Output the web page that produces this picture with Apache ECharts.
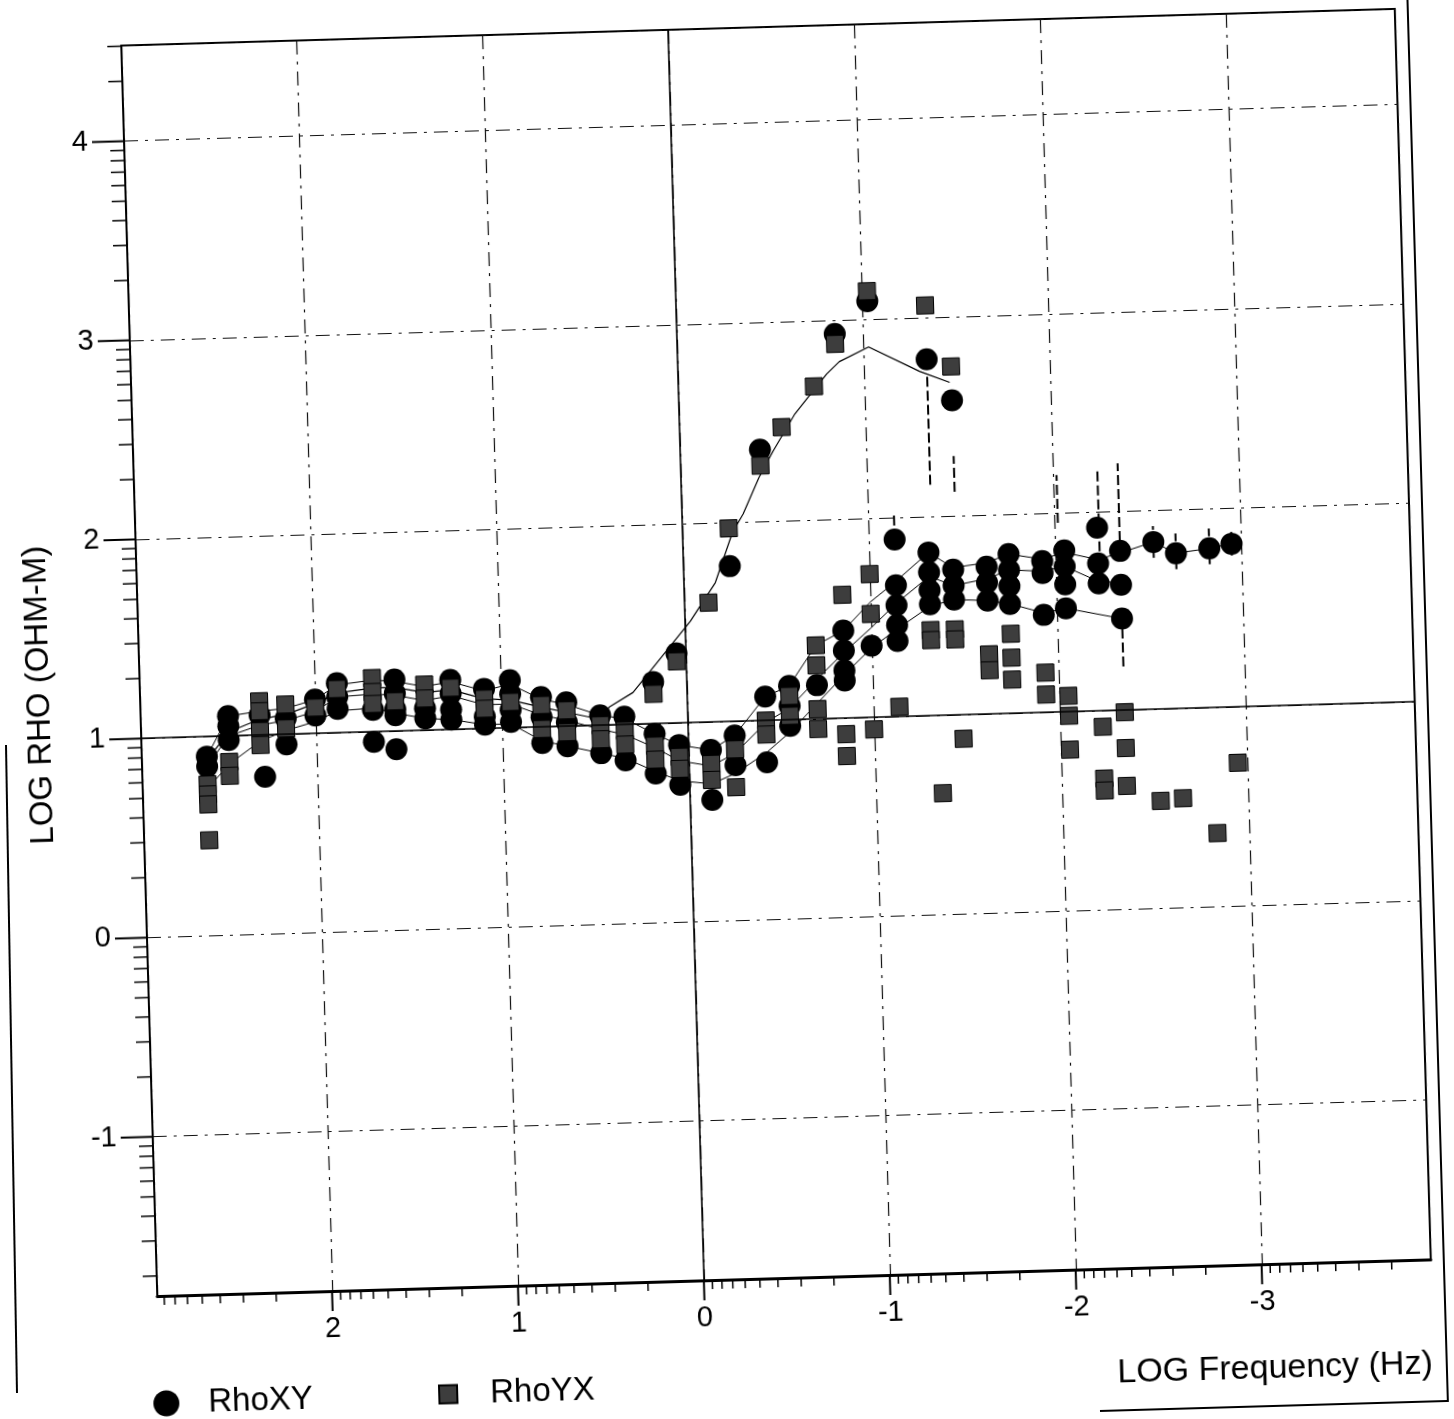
<!DOCTYPE html>
<html>
<head>
<meta charset="utf-8">
<script src="https://cdn.jsdelivr.net/npm/echarts@6/dist/echarts.min.js"></script>
<style>
html,body{margin:0;padding:0;background:#fff;overflow:hidden;width:1454px;height:1419px;}
#chart{position:absolute;left:0;top:0;width:1454px;height:1440px;transform:rotate(-1.65deg);transform-origin:776px 652px;}
#edge{position:absolute;left:0;top:0;}
</style>
</head>
<body>
<div id="chart"></div>
<svg id="edge" width="1454" height="1419"><line x1="6" y1="745" x2="17" y2="1393" stroke="#000" stroke-width="2"/></svg>
<script>
// axis extents (log10 units)
const X_MIN = -3.91, X_MAX = 2.94, Y_MIN = -1.80, Y_MAX = 4.48;
const xTickValues = [2, 1, 0, -1, -2, -3];
const xTickLabels = ['2', '1', '0', '-1', '-2', '-3'];
const yTickValues = [-1, 0, 1, 2, 3, 4];
const yTickLabels = ['-1', '0', '1', '2', '3', '4'];
const refLinesY = [1];
const refLinesX = [0];

// RhoXY apparent resistivity [log frequency, log rho]
const rhoXY = [
[2.59,0.90],[2.59,0.85],
[2.47,1.10],[2.47,1.05],[2.47,0.98],
[2.30,1.10],[2.28,0.79],
[2.16,1.08],[2.16,0.95],
[2.00,1.17],[2.00,1.09],
[1.88,1.25],[1.88,1.18],[1.88,1.12],
[1.69,1.11],[1.69,0.95],
[1.57,1.26],[1.57,1.19],[1.57,1.11],[1.57,1.08],[1.57,0.91],
[1.41,1.11],[1.41,1.06],
[1.27,1.25],[1.27,1.18],[1.27,1.10],[1.27,1.05],
[1.09,1.20],[1.09,1.06],[1.09,1.02],
[0.95,1.24],[0.95,1.17],[0.95,1.09],[0.95,1.03],
[0.785,1.15],[0.785,1.05],[0.785,0.92],
[0.65,1.12],[0.65,1.02],[0.65,0.90],
[0.47,1.05],[0.47,0.86],
[0.34,1.04],[0.34,0.82],
[0.18,1.21],[0.18,0.95],[0.18,0.75],
[0.05,1.35],[0.05,0.89],[0.05,0.69],
[-0.12,0.86],[-0.12,0.61],
[-0.25,1.78],[-0.25,0.93],[-0.25,0.78],
[-0.43,2.36],[-0.42,1.12],[-0.42,0.79],
[-0.55,1.17],[-0.55,1.07],[-0.55,0.97],
[-0.70,1.17],
[-0.85,2.93],[-0.85,1.44],[-0.85,1.34],[-0.85,1.24],[-0.85,1.19],
[-1.03,3.09],[-1.00,1.36],
[-1.14,1.89],[-1.14,1.66],[-1.14,1.56],[-1.14,1.46],[-1.14,1.38],
[-1.34,2.79],[-1.32,1.82],[-1.32,1.72],[-1.32,1.63],[-1.32,1.56],
[-1.47,2.58],[-1.45,1.73],[-1.45,1.65],[-1.45,1.58],
[-1.63,1.74],[-1.63,1.66],[-1.63,1.57],
[-1.75,1.80],[-1.75,1.72],[-1.75,1.64],[-1.75,1.55],
[-1.93,1.76],[-1.93,1.70],[-1.93,1.49],
[-2.05,1.81],[-2.05,1.73],[-2.05,1.64],[-2.05,1.52],
[-2.23,1.92],[-2.23,1.74],[-2.23,1.64],
[-2.35,1.80],[-2.35,1.63],[-2.35,1.46],
[-2.53,1.84],[-2.65,1.78],[-2.83,1.80],[-2.95,1.82]
];

// RhoYX apparent resistivity [log frequency, log rho]
const rhoYX = [
[2.59,0.76],[2.59,0.71],[2.59,0.66],[2.59,0.48],
[2.47,0.87],[2.47,0.80],
[2.30,1.17],[2.30,1.12],[2.30,1.02],[2.30,0.95],
[2.16,1.15],[2.16,1.03],
[2.00,1.13],
[1.88,1.22],
[1.69,1.27],[1.69,1.20],[1.69,1.14],
[1.57,1.15],
[1.41,1.23],[1.41,1.16],
[1.27,1.21],
[1.09,1.15],[1.09,1.10],
[0.95,1.13],
[0.785,1.11],[0.785,0.99],
[0.65,1.08],[0.65,0.97],
[0.47,1.00],[0.47,0.93],
[0.34,0.97],[0.34,0.90],
[0.18,1.15],[0.18,0.89],[0.18,0.82],
[0.05,1.31],[0.05,0.83],[0.05,0.77],
[-0.13,1.60],[-0.12,0.79],[-0.12,0.71],
[-0.25,1.97],[-0.25,0.86],[-0.25,0.67],
[-0.43,2.28],[-0.42,1.00],[-0.42,0.93],
[-0.55,2.47],[-0.55,1.12],[-0.55,1.02],
[-0.73,2.67],[-0.70,1.37],[-0.70,1.27],[-0.70,1.05],[-0.70,0.95],
[-0.85,2.88],[-0.85,1.62],[-0.85,0.92],[-0.85,0.81],
[-1.03,3.14],[-1.00,1.72],[-1.00,1.52],[-1.00,0.94],
[-1.14,1.05],
[-1.34,3.06],[-1.32,1.43],[-1.32,1.38],[-1.36,0.61],
[-1.47,2.75],[-1.45,1.43],[-1.45,1.38],[-1.48,0.88],
[-1.63,1.30],[-1.63,1.22],
[-1.75,1.40],[-1.75,1.28],[-1.75,1.17],
[-1.93,1.20],[-1.93,1.09],
[-2.05,1.08],[-2.05,0.98],[-2.05,0.81],
[-2.23,0.92],[-2.23,0.66],[-2.23,0.60],
[-2.35,0.99],[-2.35,0.81],[-2.35,0.62],
[-2.53,0.54],[-2.65,0.55],[-2.83,0.37],[-2.95,0.72]
];

// model / station curves
const curveA = [[2.59,0.90],[2.47,1.10],[2.30,1.12],[2.16,1.13],[2.00,1.17],[1.88,1.24],[1.69,1.26],[1.57,1.25],[1.41,1.22],[1.27,1.24],[1.09,1.19],[0.95,1.22],[0.785,1.14],[0.65,1.11],[0.47,1.05],[0.34,1.03],[0.18,0.95],[0.05,0.89],[-0.12,0.86],[-0.25,0.93],[-0.42,1.12],[-0.55,1.17],[-0.70,1.37],[-0.85,1.44],[-1.00,1.58],[-1.14,1.68],[-1.32,1.82],[-1.45,1.74],[-1.63,1.76],[-1.75,1.80],[-1.93,1.77],[-2.05,1.80],[-2.23,1.76],[-2.35,1.79],[-2.53,1.84],[-2.65,1.78],[-2.83,1.80],[-2.95,1.82]];
const curveB = [[2.59,0.85],[2.47,1.00],[2.30,1.05],[2.16,1.07],[2.00,1.11],[1.88,1.18],[1.69,1.19],[1.57,1.18],[1.41,1.15],[1.27,1.17],[1.09,1.12],[0.95,1.12],[0.785,1.06],[0.65,1.03],[0.47,0.98],[0.34,0.95],[0.18,0.88],[0.05,0.81],[-0.12,0.78],[-0.25,0.84],[-0.42,0.99],[-0.55,1.06],[-0.70,1.20],[-0.85,1.33],[-1.00,1.45],[-1.14,1.57],[-1.32,1.70],[-1.45,1.65],[-1.63,1.68],[-1.75,1.72],[-1.93,1.71],[-2.05,1.73],[-2.23,1.65],[-2.35,1.64]];
const curveC = [[2.59,0.74],[2.47,0.86],[2.30,0.97],[2.16,1.02],[2.00,1.06],[1.88,1.11],[1.69,1.12],[1.57,1.09],[1.41,1.06],[1.27,1.05],[1.09,1.02],[0.95,1.02],[0.785,0.93],[0.65,0.90],[0.47,0.86],[0.34,0.83],[0.18,0.76],[0.05,0.71],[-0.12,0.69],[-0.25,0.74],[-0.42,0.84],[-0.55,0.94],[-0.70,1.08],[-0.85,1.22],[-1.00,1.35],[-1.14,1.44],[-1.32,1.55],[-1.45,1.58],[-1.63,1.57],[-1.75,1.55],[-1.93,1.50],[-2.05,1.52],[-2.35,1.46]];
const curveD = [[2.59,0.88],[2.47,1.02],[2.30,1.08],[2.16,1.10],[2.00,1.15],[1.88,1.20],[1.69,1.22],[1.57,1.22],[1.41,1.19],[1.27,1.20],[1.09,1.15],[0.95,1.14],[0.785,1.10],[0.65,1.07],[0.47,1.03],[0.42,1.09],[0.29,1.16],[-0.03,1.51],[-0.17,1.70],[-0.27,1.95],[-0.33,2.04],[-0.42,2.22],[-0.50,2.35],[-0.62,2.53],[-0.70,2.62],[-0.80,2.73],[-0.87,2.79],[-1.03,2.86],[-1.30,2.73],[-1.46,2.67]];

// error bars [log frequency, low, high]
const errorBars = [[-1.14,1.89,2.02],[-1.34,2.16,2.72],[-1.47,2.12,2.30],[-2.02,1.95,2.19],[-2.24,1.80,2.22],[-2.35,1.85,2.24],[-2.35,1.22,1.46],[-2.53,1.76,1.92],[-2.65,1.70,1.88],[-2.83,1.72,1.90],[-2.95,1.76,1.88]];

function logMinor(lo, hi) {
  const out = [];
  for (let k = Math.floor(lo) - 1; k <= Math.ceil(hi); k++) {
    for (let m = 2; m <= 9; m++) {
      const v = k + Math.log10(m);
      if (v > lo && v < hi) out.push(v);
    }
  }
  return out;
}
const xMinorTicks = logMinor(X_MIN, X_MAX);
const yMinorTicks = logMinor(Y_MIN, Y_MAX);

const FONT = '"Liberation Sans", Arial, sans-serif';

function xTick(len, w) {
  return function (params, api) {
    const p = api.coord([api.value(0), Y_MIN]);
    return {type: 'line', shape: {x1: p[0], y1: p[1], x2: p[0], y2: p[1] + len}, style: {stroke: '#000', lineWidth: w}};
  };
}
function yTick(len, w) {
  return function (params, api) {
    const p = api.coord([X_MAX, api.value(0)]);
    return {type: 'line', shape: {x1: p[0] - len, y1: p[1], x2: p[0], y2: p[1]}, style: {stroke: '#000', lineWidth: w}};
  };
}

const gridDash = {color: '#111', width: 1.2, type: [14, 7, 3, 7]};
const lineStyleCurve = {color: '#000', width: 1};

const chart = echarts.init(document.getElementById('chart'), null, {renderer: 'canvas'});
chart.setOption({
  animation: false,
  backgroundColor: '#fff',
  grid: {left: 139, top: 27, width: 1274, height: 1251, show: true, borderColor: '#000', borderWidth: 2, containLabel: false},
  xAxis: {
    type: 'value', inverse: true, min: X_MIN, max: X_MAX,
    axisLine: {show: true, onZero: false, lineStyle: {color: '#000', width: 3}},
    axisTick: {show: false},
    splitLine: {show: true, lineStyle: gridDash},
    axisLabel: {
      show: true, margin: 23, color: '#000', fontSize: 29, fontFamily: FONT,
      showMinLabel: false, showMaxLabel: false,
      formatter: function (v) { const i = xTickValues.indexOf(v); return i >= 0 ? xTickLabels[i] : ''; }
    }
  },
  yAxis: {
    type: 'value', min: Y_MIN, max: Y_MAX,
    axisLine: {show: true, onZero: false, lineStyle: {color: '#000', width: 2}},
    axisTick: {show: false},
    splitLine: {show: true, lineStyle: gridDash},
    axisLabel: {
      show: true, margin: 36, color: '#000', fontSize: 29, fontFamily: FONT,
      showMinLabel: false, showMaxLabel: false,
      formatter: function (v) { const i = yTickValues.indexOf(v); return i >= 0 ? yTickLabels[i] : ''; }
    }
  },
  legend: [
    {data: ['RhoXY'], left: 127, top: 1364, itemWidth: 26, itemHeight: 26, selectedMode: false,
     textStyle: {fontSize: 33, fontFamily: FONT, color: '#000', padding: [0, 0, 0, 24]}},
    {data: ['RhoYX'], left: 412, top: 1363, itemWidth: 18, itemHeight: 18, selectedMode: false,
     textStyle: {fontSize: 33, fontFamily: FONT, color: '#000', padding: [0, 0, 0, 28]}}
  ],
  graphic: [
    {type: 'text', x: 1412, y: 1383, silent: true,
     style: {text: 'LOG Frequency (Hz)', font: '34px ' + FONT, fill: '#000', textAlign: 'right', textVerticalAlign: 'middle', align: 'right', verticalAlign: 'middle'}},
    {type: 'text', x: 39, y: 674, rotation: Math.PI / 2, silent: true,
     style: {text: 'LOG RHO (OHM-M)', font: '33px ' + FONT, fill: '#000', textAlign: 'center', textVerticalAlign: 'middle', align: 'center', verticalAlign: 'middle'}},
    {type: 'polyline', silent: true, shape: {points: [[1426, -30], [1426, 1420], [1078, 1420]]},
     style: {stroke: '#000', lineWidth: 2, fill: null}}
  ],
  series: [
    {name: 'curveA', type: 'line', data: curveA, symbol: 'none', lineStyle: lineStyleCurve, z: 2, silent: true,
     markLine: {silent: true, symbol: 'none', label: {show: false},
       lineStyle: {color: '#000', width: 1.6, type: 'solid'},
       data: refLinesY.map(v => ({yAxis: v})).concat(refLinesX.map(v => ({xAxis: v})))}},
    {name: 'curveB', type: 'line', data: curveB, symbol: 'none', lineStyle: lineStyleCurve, z: 2, silent: true},
    {name: 'curveC', type: 'line', data: curveC, symbol: 'none', lineStyle: lineStyleCurve, z: 2, silent: true},
    {name: 'curveD', type: 'line', data: curveD, symbol: 'none', lineStyle: {color: '#000', width: 1.2}, z: 2, silent: true},
    {name: 'err', type: 'custom', data: errorBars, silent: true, z: 2,
     renderItem: function (params, api) {
       const a = api.coord([api.value(0), api.value(1)]);
       const b = api.coord([api.value(0), api.value(2)]);
       return {type: 'line', shape: {x1: a[0], y1: a[1], x2: b[0], y2: b[1]}, style: {stroke: '#000', lineWidth: 2, lineDash: [10, 4]}};
     }},
    {name: 'RhoXY', type: 'scatter', data: rhoXY, symbol: 'circle', symbolSize: 22, itemStyle: {color: '#000', opacity: 1}, z: 3},
    {name: 'RhoYX', type: 'scatter', data: rhoYX, symbol: 'rect', symbolSize: 17, itemStyle: {color: '#3d3d3d', opacity: 1, borderColor: '#000', borderWidth: 1}, z: 4},
    {name: 'xMajor', type: 'custom', data: xTickValues.map(v => [v]), renderItem: xTick(20, 2), silent: true, clip: false, z: 5},
    {name: 'xMinor', type: 'custom', data: xMinorTicks.map(v => [v]), renderItem: xTick(9, 1.5), silent: true, clip: false, z: 5},
    {name: 'yMajor', type: 'custom', data: yTickValues.map(v => [v]), renderItem: yTick(32, 2), silent: true, clip: false, z: 5},
    {name: 'yMinor', type: 'custom', data: yMinorTicks.map(v => [v]), renderItem: yTick(14, 1.5), silent: true, clip: false, z: 5}
  ]
});
</script>
</body>
</html>
